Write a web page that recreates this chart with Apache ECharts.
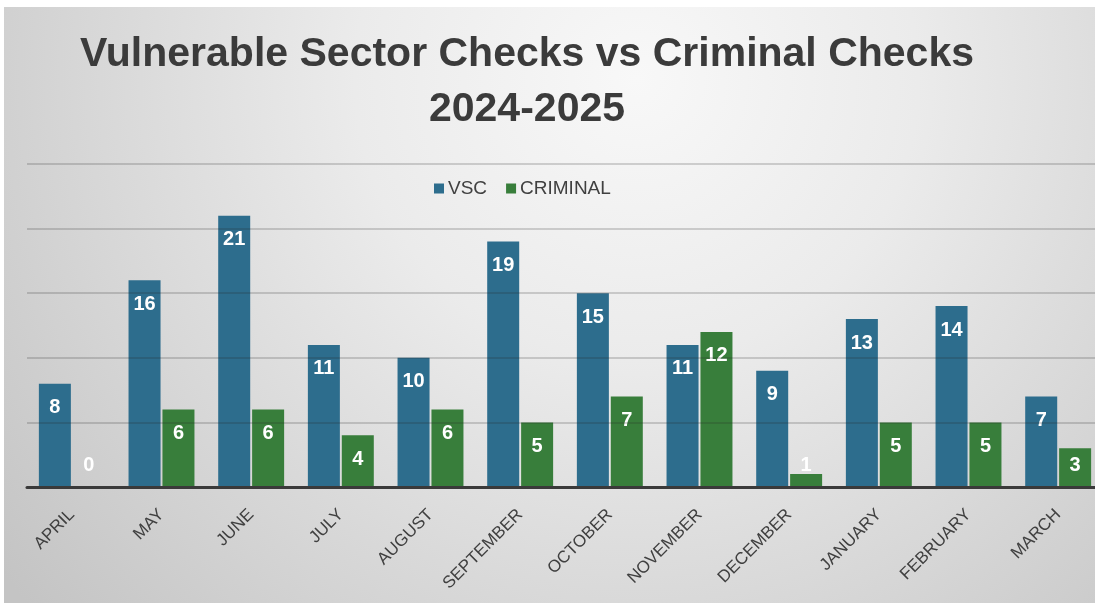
<!DOCTYPE html>
<html>
<head>
<meta charset="utf-8">
<style>
html,body{margin:0;padding:0;background:#fff;overflow:hidden;}
#chart{width:1110px;height:603px;}
</style>
<script src="https://cdn.jsdelivr.net/npm/echarts@6/dist/echarts.min.js"></script>
</head>
<body>
<div id="chart"></div>
<script>
const months = ['APRIL','MAY','JUNE','JULY','AUGUST','SEPTEMBER','OCTOBER','NOVEMBER','DECEMBER','JANUARY','FEBRUARY','MARCH'];
const vsc = [8,16,21,11,10,19,15,11,9,13,14,7];
const criminal = [0,6,6,4,6,5,7,12,1,5,5,3];
const yTicks = [0,5,10,15,20,25];

const FONT = '"Liberation Sans", Arial, sans-serif';

function items(values){
  return values.map(v => ({
    value: v,
    label: v >= 4 ? {position:'insideTop', distance:14} : {position:'insideBottom', distance:12}
  }));
}

const labelStyle = {show:true, color:'#ffffff', fontFamily:FONT, fontWeight:'bold', fontSize:20};

const chart = echarts.init(document.getElementById('chart'), null, {renderer:'canvas'});
chart.setOption({
  animation:false,
  textStyle:{fontFamily:FONT},
  graphic:[{
    type:'rect', z:-10, silent:true,
    shape:{x:4, y:7, width:1091, height:596},
    style:{
      fill:{type:'radial', x:0.58, y:0.12, r:1.35,
        colorStops:[{offset:0,color:'#f8f8f8'},{offset:0.35,color:'#ebebeb'},{offset:0.7,color:'#d6d6d6'},{offset:1,color:'#c4c4c4'}]}
    }
  }],
  title:{
    text:'Vulnerable Sector Checks vs Criminal Checks\n2024-2025',
    left:522, top:22, textAlign:'center',
    textStyle:{fontFamily:FONT, fontWeight:'bold', fontSize:41, color:'#3b3b3b', lineHeight:55}
  },
  legend:{
    left:429, top:174,
    itemWidth:10, itemHeight:10, itemGap:19,
    icon:'rect',
    textStyle:{fontFamily:FONT, fontSize:19, color:'#404040', padding:[0,0,0,-1]},
    data:['VSC','CRIMINAL']
  },
  grid:{left:27, top:164, width:1076, height:323, containLabel:false},
  xAxis:{
    type:'category', data:months, z:4,
    axisLine:{show:true, lineStyle:{color:'#3a3a3a', width:3}},
    axisTick:{show:false},
    axisLabel:{rotate:45, margin:25, interval:0, fontFamily:FONT, fontSize:17, color:'#404040'}
  },
  yAxis:{
    type:'value', min:yTicks[0], max:yTicks[yTicks.length-1], interval:yTicks[1]-yTicks[0], z:3,
    axisLine:{show:false}, axisTick:{show:false}, axisLabel:{show:false},
    splitLine:{show:true, lineStyle:{color:'rgba(40,40,40,0.25)', width:1.5}}
  },
  series:[
    {name:'VSC', type:'bar', data:items(vsc), barWidth:32, barGap:'6%', z:1,
      itemStyle:{color:'#2d6d8d'}, label:labelStyle},
    {name:'CRIMINAL', type:'bar', data:items(criminal), barWidth:32, z:1,
      itemStyle:{color:'#387e3b'}, label:labelStyle}
  ]
});
</script>
</body>
</html>
